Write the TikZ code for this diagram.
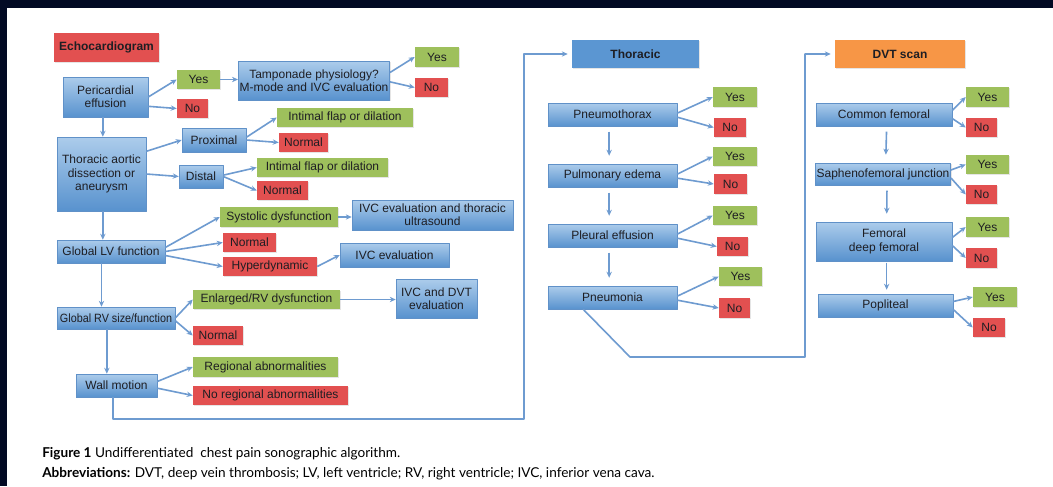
\documentclass[tikz,border=0pt]{standalone}
\usepackage{fontspec}
\setmainfont{Liberation Sans}
\newfontfamily\capfont{Lato}
\usetikzlibrary{arrows.meta,shadows}
\definecolor{navy}{RGB}{2,10,36}
\definecolor{bluetop}{RGB}{172,204,235}
\definecolor{bluebot}{RGB}{88,146,206}
\definecolor{blueedge}{RGB}{96,145,200}
\definecolor{thorblue}{RGB}{91,150,210}
\definecolor{okgreen}{RGB}{158,192,92}
\definecolor{nored}{RGB}{226,80,80}
\definecolor{dvtorange}{RGB}{247,150,70}
\definecolor{linkblue}{RGB}{110,155,208}
\definecolor{ink}{RGB}{30,30,35}
\tikzset{
  box/.style={rectangle,inner sep=1pt,align=center,text=ink,
    font=\fontsize{9}{10}\selectfont,
    drop shadow={shadow xshift=1pt,shadow yshift=-1pt,opacity=0.2}},
  w/.style={minimum width=#1*0.75pt},
  h/.style={minimum height=#1*0.75pt},
  bluebox/.style={box,top color=bluetop,bottom color=bluebot,draw=blueedge,line width=0.4pt},
  yesbox/.style={box,fill=okgreen},
  nobox/.style={box,fill=nored},
  headbox/.style={box,font=\fontsize{9}{10}\selectfont\bfseries},
  link/.style={draw=linkblue,line width=1.2pt,->},
  captext/.style={anchor=base west,inner sep=0pt,font=\capfont\fontsize{10.2}{12}\selectfont},
}
\begin{document}
\begin{tikzpicture}[x=0.75pt,y=-0.75pt,>={Stealth[length=4.5pt,width=4pt]},line join=round]
	% frame
	\fill[navy] (0,0) rectangle (1053,486);
	\fill[white] (7,8) rectangle (1053,486);
	\useasboundingbox (0,0) rectangle (1053,486);
	% echocardiogram column
	\node[headbox,fill=nored,w=105,h=29] (echo) at (106.5,47.5) {Echocardiogram};
	\node[bluebox,w=85,h=40] (pe) at (105.5,97) {Pericardial\\effusion};
	\node[yesbox,w=43,h=19] (y1) at (198.5,79.5) {Yes};
	\node[nobox,w=31,h=19] (n1) at (192.5,108.5) {No};
	\node[bluebox,w=148,h=39] (tam) at (314,80.5) {Tamponade physiology?\\M-mode and IVC evaluation};
	\node[yesbox,w=44,h=20] (y2) at (437,57) {Yes};
	\node[nobox,w=33,h=19] (n2) at (431.5,87.5) {No};
	\node[bluebox,w=89,h=74] (tad) at (101.5,174) {Thoracic aortic\\dissection or\\aneurysm};
	\node[bluebox,w=64,h=24] (prox) at (214,140) {Proximal};
	\node[yesbox,w=136,h=19] (if1) at (345,117.5) {Intimal flap or dilation};
	\node[nobox,w=49,h=19] (nm1) at (303.5,142.5) {Normal};
	\node[bluebox,w=44,h=23] (dist) at (201,176.5) {Distal};
	\node[yesbox,w=131,h=19] (if2) at (322.5,167.5) {Intimal flap or dilation};
	\node[nobox,w=51,h=19] (nm2) at (282.5,190.5) {Normal};
	\node[bluebox,w=108,h=23] (lv) at (111,251.5) {Global LV function};
	\node[yesbox,w=118,h=20] (sys) at (279,217) {Systolic dysfunction};
	\node[bluebox,w=161,h=30] (ivct) at (432.5,215) {IVC evaluation and thoracic\\ultrasound};
	\node[nobox,w=53,h=19] (nm3) at (249.5,242.5) {Normal};
	\node[nobox,w=94,h=19] (hyp) at (270,266.5) {Hyperdynamic};
	\node[bluebox,w=109,h=24] (ivc) at (394.5,255) {IVC evaluation};
	\node[bluebox,w=118,h=22] (rv) at (116,318) {\scalebox{0.9}[1]{Global RV size/function}};
	\node[yesbox,w=147,h=19] (enl) at (266.5,299.5) {Enlarged/RV dysfunction};
	\node[bluebox,w=81,h=39] (ivcd) at (436.5,298.5) {IVC and DVT\\evaluation};
	\node[nobox,w=50,h=19] (nm4) at (218,335.5) {Normal};
	\node[bluebox,w=81,h=23] (wm) at (116.5,385.5) {Wall motion};
	\node[yesbox,w=145,h=20] (reg) at (265.5,367) {Regional abnormalities};
	\node[nobox,w=155,h=19] (nreg) at (270.5,395.5) {No regional abnormalities};
	% thoracic column
	\node[headbox,fill=thorblue,w=127,h=28] (thor) at (635.5,54) {Thoracic};
	\node[bluebox,w=129,h=23] (ptx) at (612.5,114.5) {Pneumothorax};
	\node[yesbox,w=44,h=20] (y3) at (735,97) {Yes};
	\node[nobox,w=32,h=19] (n3) at (730,127.5) {No};
	\node[bluebox,w=129,h=23] (ped) at (612.5,175.5) {Pulmonary edema};
	\node[yesbox,w=44,h=19] (y4) at (735,156.5) {Yes};
	\node[nobox,w=33,h=20] (n4) at (730.5,184) {No};
	\node[bluebox,w=129,h=23] (pef) at (612.5,235.5) {Pleural effusion};
	\node[yesbox,w=44,h=19] (y5) at (735,215.5) {Yes};
	\node[nobox,w=31,h=19] (n5) at (732.5,246.5) {No};
	\node[bluebox,w=129,h=23] (pna) at (612.5,297.5) {Pneumonia};
	\node[yesbox,w=43,h=19] (y6) at (740.5,276.5) {Yes};
	\node[nobox,w=31,h=20] (n6) at (734.5,308) {No};
	% dvt column
	\node[headbox,fill=dvtorange,w=130,h=28] (dvt) at (900,54) {DVT scan};
	\node[bluebox,w=136,h=23] (cf) at (884,114.5) {Common femoral};
	\node[yesbox,w=43,h=20] (y7) at (987.5,97) {Yes};
	\node[nobox,w=31,h=19] (n7) at (981.5,127.5) {No};
	\node[bluebox,w=134,h=22] (sfj) at (883,174) {Saphenofemoral junction};
	\node[yesbox,w=43,h=19] (y8) at (987.5,164.5) {Yes};
	\node[nobox,w=31,h=19] (n8) at (981.5,194.5) {No};
	\node[bluebox,w=136,h=39] (fdf) at (884,241.5) {Femoral\\deep femoral};
	\node[yesbox,w=43,h=20] (y9) at (987.5,227) {Yes};
	\node[nobox,w=31,h=20] (n9) at (981.5,258) {No};
	\node[bluebox,w=135,h=23] (pop) at (885.5,305.5) {Popliteal};
	\node[yesbox,w=44,h=20] (y10) at (995,297) {Yes};
	\node[nobox,w=32,h=19] (n10) at (989,327.5) {No};
	% echo arrows
	\draw[link] (pe.east) -- (y1.west);
	\draw[link] ([yshift=-7pt]pe.east) -- (n1.west);
	\draw[link] (y1.east) -- (tam.west |- y1.east);
	\draw[link] ([yshift=6pt]tam.east) -- (y2.west);
	\draw[link] ([yshift=-1pt]tam.east) -- (n2.west);
	\draw[link] ([xshift=-2pt]pe.south) -- ([xshift=-2pt]pe.south |- tad.north);
	\draw[link] ([yshift=17pt]tad.east) -- (prox.west);
	\draw[link] (tad.east) -- (dist.west);
	\draw[link] ([yshift=2pt]prox.east) -- (if1.west);
	\draw[link] (prox.east) -- (nm1.west);
	\draw[link] ([yshift=1pt]dist.east) -- (if2.west);
	\draw[link] (dist.east) -- (nm2.west);
	\draw[link] ([xshift=1pt]tad.south) -- ([xshift=1pt]tad.south |- lv.north);
	\draw[link] ([yshift=3pt]lv.east) -- (sys.west);
	\draw[link] (lv.east) -- (nm3.west);
	\draw[link] ([yshift=-3pt]lv.east) -- (hyp.west);
	\draw[link] (sys.east) -- (ivct.west |- sys.east);
	\draw[link] (hyp.east) -- (ivc.west);
	\draw[link] (lv.south -| tad.south) -- (rv.north -| tad.south);
	\draw[link] (rv.east) -- (enl.west);
	\draw[link] ([yshift=-2pt]rv.east) -- (nm4.west);
	\draw[link] (enl.east) -- (ivcd.west |- enl.east);
	\draw[link] ([xshift=4pt]rv.south -| tad.south) -- ([xshift=4pt]wm.north -| tad.south);
	\draw[link] ([yshift=3pt]wm.east) -- (reg.west);
	\draw[link] ([yshift=-2pt]wm.east) -- (nreg.west);
	% loop to thoracic
	\coordinate (c1) at (524,419);
	\coordinate (c2) at (524,54);
	\draw[link,shorten >=3pt] ([xshift=-2.5pt]wm.south) |- (c1) -- (c2) -- (thor.west);
	% thoracic arrows
	\foreach \src/\yes/\no in {ptx/y3/n3,ped/y4/n4,pef/y5/n5,pna/y6/n6}{
		\draw[link] ([yshift=1pt]\src.east) -- (\yes.west);
		\draw[link] ([yshift=-2pt]\src.east) -- (\no.west);
	}
	\foreach \a/\b in {ptx/ped,ped/pef,pef/pna}{
		\draw[link,shorten <=4pt,shorten >=6pt] ([xshift=-2.5pt]\a.south) -- ([xshift=-2.5pt]\b.north);
	}
	% loop to dvt
	\coordinate (c3) at (630,357);
	\coordinate (c4) at (805,357);
	\coordinate (c5) at (805,54);
	\draw[link,shorten >=3pt] ([xshift=-22pt]pna.south) -- (c3) -- (c4) -- (c5) -- (dvt.west);
	% dvt arrows
	\foreach \src/\yes/\no in {cf/y7/n7,sfj/y8/n8,fdf/y9/n9,pop/y10/n10}{
		\draw[link] ([yshift=3pt]\src.east) -- (\yes.west);
		\draw[link] ([yshift=-3pt]\src.east) -- (\no.west);
	}
	\draw[link,shorten <=4pt,shorten >=6pt] ([xshift=2pt]cf.south) -- ([xshift=2pt]sfj.north);
	\draw[link,shorten <=4pt,shorten >=6pt] ([xshift=3pt]sfj.south) -- ([xshift=2pt]fdf.north);
	\draw[link,shorten <=1pt,shorten >=3pt] ([xshift=2pt]fdf.south) -- ([xshift=2pt]fdf.south |- pop.north);
	% caption
	\node[captext] (cap1) at (42,457) {\textbf{Figure 1} Undifferentiated\ \ chest pain sonographic algorithm.};
	\node[captext] (cap2) at (42,477) {\textbf{Abbreviations:} DVT, deep vein thrombosis; LV, left ventricle; RV, right ventricle; IVC, inferior vena cava.};
\end{tikzpicture}
\end{document}
